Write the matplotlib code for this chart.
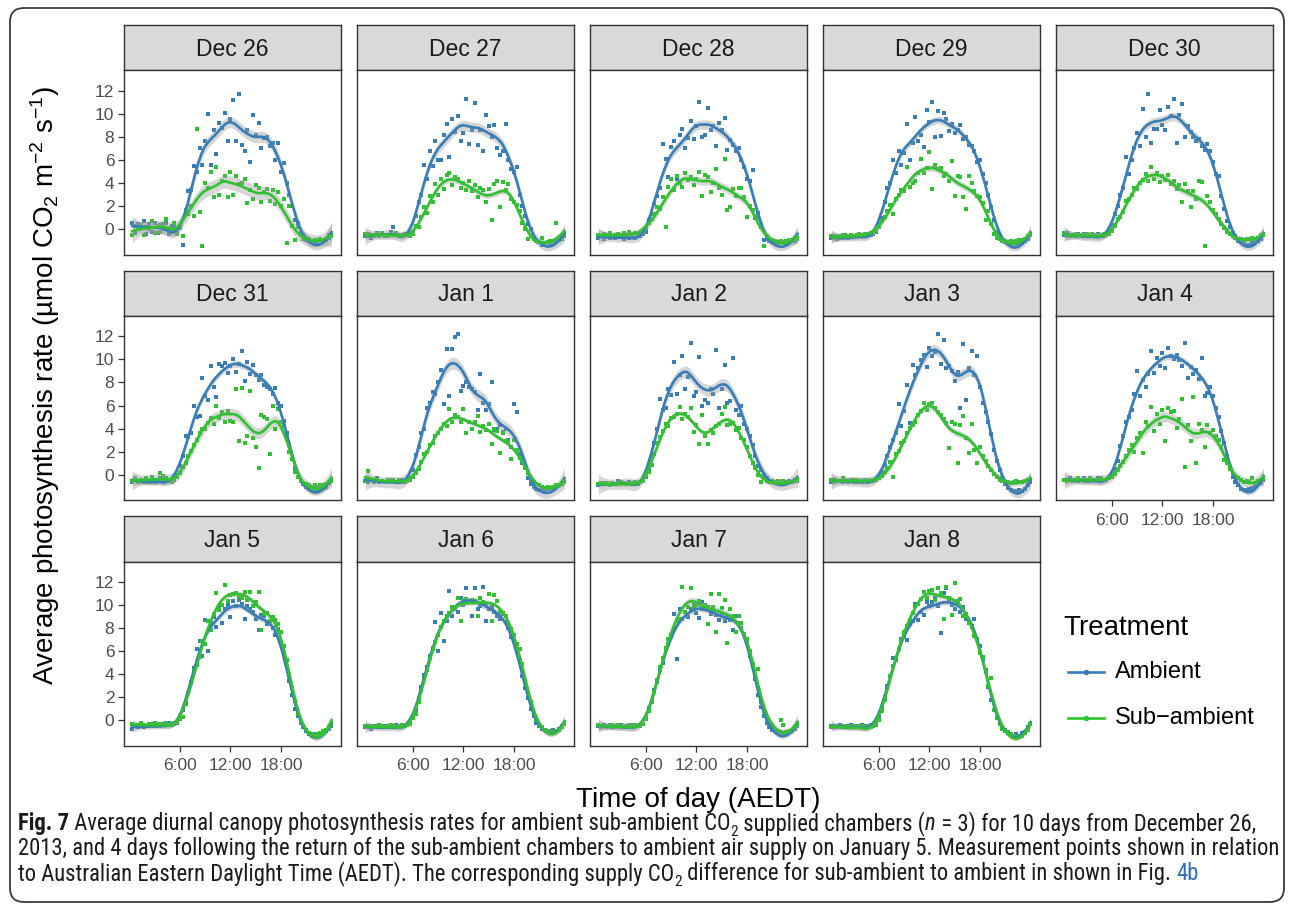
import numpy as np
import matplotlib
matplotlib.use("Agg")
import matplotlib.pyplot as plt
from matplotlib import font_manager
from matplotlib.font_manager import FontProperties
from matplotlib.lines import Line2D
from matplotlib.patches import FancyBboxPatch
from matplotlib.transforms import IdentityTransform

# readings every 20 min (t = 0:20 ... 24:00), one row = 4 hours
dec26_amb = [
    0.6, -0.3, 0.5, 0.2, 0.7, -0.4, 0.5, -0.2, 0.6, -0.3, 0.4, 0.0,
    0.6, -0.4, 0.3, 0.2, -0.3, 0.1, -1.3, 1.3, 3.3, 3.4, 5.5, 5.0,
    7.0, 5.6, 7.6, 10.0, 5.6, 8.6, 6.5, 9.2, 8.8, 10.1, 7.6, 9.5,
    11.2, 7.6, 11.7, 7.3, 6.8, 8.6, 5.8, 9.9, 8.2, 9.2, 7.0, 7.9,
    8.0, 7.2, 7.5, 6.0, 7.5, 5.0, 5.75, 4.0, 3.0, 2.0, 0.86, 0.6,
    -0.3, -0.5, -0.9, -1.0, -1.1, -1.2, -1.1, -0.9, -1.0, -0.9, -0.7, -0.5]
dec26_sub = [
    -0.5, 0.3, 0.1, 0.4, -0.5, 0.2, 0.0, 0.7, -0.3, 0.3, -0.2, 0.5,
    0.9, 0.1, -0.2, 0.6, -0.4, 0.2, -0.6, 1.7, 1.3, 2.0, 1.2, 8.7,
    1.5, -1.4, 4.0, 3.6, 5.0, 2.8, 5.4, 3.0, 4.2, 4.6, 2.8, 5.0,
    3.0, 4.6, 3.9, 4.0, 4.4, 2.3, 3.4, 2.6, 3.8, 3.6, 2.4, 3.2,
    3.5, 2.5, 3.4, 2.2, 3.2, 2.0, 2.6, -1.2, 2.0, 0.3, -0.9, 0.2,
    -0.5, -0.8, -0.7, -0.8, -1.0, -0.9, -0.9, -0.8, -1.0, -0.8, -0.5, -0.6]
dec27_amb = [
    -0.6, -0.4, -0.7, -0.5, -0.3, -0.6, -0.4, -0.6, -0.5, -0.2, 0.2, -0.3,
    -0.5, -0.6, -0.4, -0.5, -0.6, -0.3, 1.2, 2.4, 3.0, 5.6, 4.4, 6.8,
    5.5, 7.6, 6.0, 6.0, 8.2, 9.1, 6.25, 9.5, 8.4, 9.8, 7.6, 8.3,
    11.3, 7.4, 8.6, 10.9, 7.3, 8.6, 6.8, 9.9, 8.9, 8.0, 9.0, 7.0,
    6.4, 6.8, 9.1, 6.0, 5.2, 5.0, 5.4, 3.0, 2.0, 1.2, 0.5, 0.0,
    -0.8, -1.0, -1.1, -1.3, -1.2, -1.1, -1.2, -1.0, -1.1, -0.9, -0.8, -0.6]
dec27_sub = [
    -0.4, -0.6, -0.5, -0.6, -0.4, -0.5, -0.3, -0.5, -0.6, -0.4, -0.5, -0.3,
    -0.6, -0.5, -0.4, -0.5, -0.6, -0.4, 0.3, 0.2, 1.1, 1.9, 1.4, 2.9,
    2.4, 3.9, 3.0, 4.4, 3.5, 4.7, 4.9, 3.8, 4.5, 4.4, 3.6, 4.0,
    3.4, 4.2, 3.3, 3.8, 2.8, 3.6, 3.4, 2.4, 3.5, 0.8, 3.9, 4.2,
    1.9, 4.1, 3.4, 3.9, 2.6, 2.4, 2.1, 1.6, 0.6, 0.0, -0.8, -0.6,
    -0.8, -1.0, -1.1, -0.7, -1.2, -1.1, -1.0, -1.1, 0.6, -0.9, -0.7, -0.4]
dec28_amb = [
    -0.7, -0.6, -0.8, -0.5, -0.7, -0.6, -0.7, -0.5, -0.6, -0.8, -0.6, -0.7,
    -0.5, -0.7, -0.6, -0.6, -0.4, -0.2, 0.8, 1.3, 2.2, 2.9, 3.6, 7.4,
    6.1, 4.5, 7.1, 7.6, 4.4, 8.2, 8.7, 7.0, 7.9, 9.4, 7.8, 8.9,
    11.0, 8.0, 8.2, 10.5, 8.6, 8.9, 7.25, 9.2, 8.6, 9.6, 6.9, 7.7,
    7.3, 6.8, 7.0, 6.0, 5.4, 4.4, 4.2, 5.1, 1.0, 1.4, 0.2, -0.9,
    -0.8, -1.0, -1.1, -1.1, -1.2, -1.0, -1.1, -1.2, -1.0, -0.9, -1.0, -0.7]
dec28_sub = [
    -0.5, -0.6, -0.4, -0.5, -0.3, -0.6, -0.5, -0.4, -0.5, -0.3, -0.5, -0.2,
    -0.4, -0.3, -0.5, -0.3, -0.1, 0.1, 0.6, 0.9, 1.3, 1.9, 1.8, 2.8,
    0.2, 3.7, 4.4, 3.4, 4.6, 4.0, 3.7, 4.9, 4.3, 4.5, 3.8, 4.4,
    4.95, 2.9, 4.7, 4.5, 3.2, 4.0, 5.2, 3.6, 3.0, 6.1, 1.65, 1.9,
    3.5, 2.9, 3.6, 3.6, 2.8, 1.07, 2.0, 1.7, 1.2, 1.0, 0.4, -1.4,
    -0.6, -0.8, -0.9, -1.0, -1.1, -1.0, -1.1, -1.0, -0.9, -0.9, -0.8, -0.8]
dec29_amb = [
    -0.7, -0.6, -0.8, -0.6, -0.7, -0.5, -0.7, -0.6, -0.6, -0.5, -0.6, -0.5,
    -0.5, -0.4, -0.5, -0.4, -0.2, 0.5, 1.0, 2.4, 3.6, 4.0, 6.0, 4.9,
    6.8, 5.6, 6.6, 9.1, 6.0, 7.5, 9.7, 7.6, 8.2, 7.1, 10.3, 9.3,
    11.0, 8.0, 10.2, 8.1, 10.1, 9.5, 8.5, 9.1, 8.3, 8.6, 9.0, 7.8,
    8.0, 7.3, 7.2, 6.8, 5.8, 6.0, 4.8, 4.0, 3.0, 1.9, 0.8, -0.2,
    -0.6, -1.0, -1.1, -1.2, -1.3, -1.2, -1.3, -1.2, -1.1, -1.0, -0.8, -0.5]
dec29_sub = [
    -0.6, -0.7, -0.6, -0.7, -0.5, -0.6, -0.6, -0.5, -0.6, -0.5, -0.4, -0.5,
    -0.4, -0.5, -0.3, -0.3, -0.1, 0.2, 0.7, 1.1, 1.6, 2.1, 1.35, 2.6,
    3.0, 3.4, 3.3, 5.4, 3.65, 4.0, 4.2, 4.9, 6.1, 4.9, 5.3, 6.7,
    3.5, 5.6, 5.2, 5.3, 4.6, 4.8, 4.2, 5.9, 2.9, 4.6, 4.5, 2.8,
    1.8, 4.6, 4.0, 3.3, 2.9, 2.8, 2.3, 0.78, 1.6, 0.5, -0.4, -0.7,
    -0.8, -1.0, -1.0, -1.1, -1.0, -1.1, -1.0, -0.9, -0.9, -0.8, -0.6, -0.5]
dec30_amb = [
    -0.5, -0.3, -0.6, -0.5, -0.6, -0.4, -0.5, -0.4, -0.6, -0.6, -0.5, -0.5,
    -0.4, -0.5, -0.6, -0.5, -0.3, 0.4, 1.3, 2.0, 3.0, 3.6, 6.25, 4.8,
    6.0, 7.0, 8.3, 7.2, 10.4, 8.0, 11.7, 7.5, 8.7, 8.7, 10.3, 9.0,
    8.55, 10.6, 9.8, 11.3, 7.5, 9.9, 10.85, 7.97, 8.9, 8.4, 8.0, 7.6,
    7.8, 7.2, 6.9, 7.4, 6.8, 5.8, 4.8, 4.6, 2.9, 1.8, 0.7, 0.2,
    -0.3, -0.6, -1.0, -1.1, -1.2, -1.3, -1.3, -1.2, -1.1, -1.0, -0.8, -0.5]
dec30_sub = [
    -0.3, -0.6, -0.5, -0.6, -0.4, -0.5, -0.5, -0.6, -0.4, -0.5, -0.4, -0.6,
    -0.5, -0.6, -0.4, -0.5, -0.4, -0.1, 0.3, 0.9, 1.1, 1.5, 2.5, 2.6,
    3.0, 3.6, 3.5, 4.0, 4.3, 4.8, 4.2, 5.4, 4.4, 4.9, 4.1, 4.6,
    4.3, 4.7, 3.9, 4.2, 3.5, 3.8, 2.36, 3.9, 3.3, 1.93, 3.3, 2.6,
    4.2, 4.1, -1.4, 2.9, 2.4, 1.65, 1.3, 0.9, 0.5, 0.1, -0.2, -0.4,
    -0.6, -0.7, -0.8, -0.8, -0.9, -0.8, -0.8, -0.7, -0.8, -0.7, -0.5, -0.5]
dec31_amb = [
    -0.6, -0.4, -0.5, -0.5, -0.6, -0.4, -0.6, -0.5, -0.4, -0.5, -0.3, -0.6,
    -0.4, -0.5, -0.6, -0.3, 0.0, 0.8, 1.6, 3.4, 3.3, 3.6, 6.0, 5.0,
    5.1, 8.4, 6.8, 6.5, 9.4, 7.6, 6.7, 9.6, 9.4, 9.7, 8.8, 9.4,
    10.0, 8.9, 9.6, 10.7, 8.1, 9.8, 8.7, 9.5, 8.6, 8.2, 8.6, 7.8,
    7.6, 7.4, 7.0, 7.5, 6.2, 6.0, 4.7, 3.6, 2.6, 1.4, 0.6, -0.2,
    -0.5, -0.8, -1.0, -1.2, -1.3, -1.1, -1.2, -1.3, -1.1, -1.0, -0.7, -0.5]
dec31_sub = [
    -0.5, -0.3, -0.6, -0.4, -0.6, -0.3, -0.5, -0.2, -0.6, -0.5, 0.2, -0.1,
    -0.3, -0.5, -0.6, -0.4, -0.2, 0.2, 0.7, 1.0, 1.6, 2.1, 2.6, 3.0,
    3.6, 4.0, 4.0, 4.5, 4.9, 4.4, 6.0, 4.9, 5.4, 4.6, 5.5, 4.7,
    4.6, 7.45, 2.9, 7.5, 2.8, 3.4, 7.25, 3.2, 2.4, 0.63, 5.2, 5.0,
    4.8, 1.8, 6.0, 4.0, 5.7, 4.6, 4.2, 3.1, 2.0, 1.4, 0.3, -0.2,
    -0.5, -0.7, -0.8, -0.9, -1.0, -0.9, -1.0, -0.9, -0.9, -0.8, -0.6, -0.5]
jan1_amb = [
    -0.5, -0.6, -0.4, -0.5, -0.3, -0.6, -0.5, -0.6, -0.5, -0.4, -0.5, -0.6,
    -0.5, -0.4, -0.6, -0.5, -0.3, 0.4, 1.7, 2.4, 3.6, 4.0, 5.8, 6.2,
    7.2, 7.0, 8.0, 9.1, 6.1, 10.9, 6.8, 10.85, 11.9, 12.15, 7.25, 7.7,
    8.0, 7.6, 7.4, 7.2, 5.6, 8.7, 6.2, 5.6, 6.1, 8.0, 3.9, 4.0,
    4.3, 3.7, 4.0, 3.0, 2.4, 6.1, 5.4, 1.8, 1.0, 0.8, -0.3, -0.8,
    -1.0, -1.2, -1.3, -1.2, -1.3, -1.2, -1.1, -1.2, -1.0, -0.9, -0.8, -0.6]
jan1_sub = [
    -0.5, 0.35, -0.4, -0.6, -0.4, -0.5, -0.5, -0.6, -0.4, -0.5, -0.4, -0.6,
    -0.4, -0.6, -0.5, -0.5, -0.4, -0.2, 0.2, 0.5, 1.1, 1.8, 2.0, 2.6,
    2.8, 3.4, 3.6, 4.0, 4.4, 4.2, 5.7, 4.6, 5.2, 5.0, 4.6, 5.7,
    3.65, 4.6, 4.0, 4.6, 5.1, 3.7, 4.2, 3.9, 4.4, 2.65, 4.0, 3.8,
    1.93, 3.6, 2.9, 2.9, 1.35, 3.0, 2.2, 1.5, 1.3, 0.6, 0.2, -0.4,
    -0.6, -0.8, -0.9, -1.0, -1.1, -1.0, -1.1, -1.0, -0.9, -0.9, -0.7, -0.6]
jan2_amb = [
    -0.9, -0.8, -0.7, -0.8, -0.9, -0.7, -0.8, -0.5, -0.7, -0.7, -0.8, -0.6,
    -0.7, -0.6, -0.7, -0.6, -0.5, -0.2, 0.6, 1.6, 2.8, 4.0, 6.6, 5.6,
    5.8, 7.4, 6.9, 9.8, 7.0, 8.6, 10.3, 7.4, 8.5, 11.4, 6.8, 7.2,
    10.2, 6.0, 6.5, 6.2, 7.4, 7.0, 10.8, 5.8, 7.4, 9.5, 6.2, 6.4,
    10.1, 5.6, 5.2, 6.0, 4.4, 4.0, 3.4, 2.6, 1.6, 0.8, 0.4, 0.0,
    -0.3, -0.5, -0.6, -0.6, -0.7, -0.6, -0.7, -0.6, -0.5, -0.6, -0.4, -0.5]
jan2_sub = [
    -0.8, -0.7, -0.8, -0.7, -0.9, -0.7, -0.8, -0.7, -0.6, -0.7, -0.8, -0.7,
    -0.7, -0.6, -0.8, -0.6, -0.5, -0.1, 0.3, 0.9, 1.8, 2.8, 3.3, 3.8,
    4.4, 4.2, 4.9, 5.0, 5.3, 5.9, 4.8, 5.3, 5.0, 5.75, 3.7, 4.3,
    2.7, 5.2, 3.4, 2.7, 3.9, 3.6, 4.2, 4.4, 5.3, 5.9, 4.3, 4.4,
    4.5, 3.9, 4.1, 3.2, 3.0, 2.4, 1.6, 1.0, 0.6, 0.0, -0.6, -0.3,
    -0.5, -0.6, -0.5, -0.6, -0.5, -0.6, -0.5, -0.7, -0.6, -0.6, -0.5, -0.4]
jan3_amb = [
    -0.6, -0.4, -0.5, -0.5, -0.6, -0.4, -0.5, -0.4, -0.6, -0.6, -0.5, -0.5,
    -0.4, -0.6, -0.5, -0.5, -0.4, -0.2, 0.3, 0.9, 1.6, 2.4, 3.0, 3.6,
    6.1, 4.2, 5.5, 7.8, 4.5, 9.5, 8.6, 9.2, 9.9, 10.4, 9.3, 11.0,
    10.3, 10.6, 12.2, 9.6, 11.7, 9.2, 9.4, 9.0, 8.1, 8.9, 5.8, 11.3,
    6.5, 9.2, 10.7, 8.6, 10.3, 7.6, 6.2, 5.4, 4.6, 3.5, 2.2, 1.2,
    0.4, -0.3, -0.8, -1.1, -1.3, -1.4, -1.4, -1.3, -1.4, -1.2, -0.9, -0.6]
jan3_sub = [
    -0.4, -0.6, -0.5, -0.5, -0.3, -0.5, -0.6, -0.5, -0.4, -0.4, -0.5, -0.6,
    -0.5, -0.4, -0.5, -0.5, -0.4, -0.3, -0.1, 0.3, 0.6, 1.1, -0.2, 1.8,
    2.1, 2.8, 2.9, 3.6, 4.1, 4.3, 4.6, 5.2, 5.5, 6.25, 5.6, 6.1,
    6.25, 5.8, 5.4, 5.2, 4.8, 4.5, 2.36, 4.6, 4.4, 1.07, 4.3, 5.1,
    3.2, 1.93, 4.4, 2.2, 1.07, 2.4, 1.6, 1.2, 0.8, 0.4, 0.1, -0.2,
    -0.4, -0.5, -0.6, -0.6, -0.7, -0.6, -0.5, -0.6, -0.6, -0.5, -0.4, -0.4]
jan4_amb = [
    -0.4, -0.5, -0.3, -0.5, -0.4, -0.5, -0.4, -0.3, -0.5, -0.5, -0.4, -0.4,
    -0.3, -0.5, -0.4, -0.4, -0.3, -0.1, 0.5, 1.2, 2.5, 3.4, 4.6, 5.0,
    5.6, 7.0, 9.0, 6.8, 8.2, 7.6, 8.7, 10.7, 8.8, 10.1, 9.4, 10.5,
    9.2, 11.0, 10.3, 10.0, 10.4, 9.9, 9.4, 11.4, 8.4, 9.3, 8.7, 9.1,
    8.3, 10.1, 6.8, 7.1, 7.6, 6.8, 5.8, 5.0, 3.8, 2.8, 1.6, 0.6,
    -0.2, -0.6, -0.9, -1.2, -1.3, -1.3, -1.2, -1.1, -1.0, -0.8, -0.7, -0.4]
jan4_sub = [
    -0.4, -0.5, -0.4, -0.5, -0.4, -0.3, -0.4, -0.5, -0.4, -0.3, -0.4, -0.5,
    -0.4, -0.3, -0.4, -0.4, -0.3, -0.2, 0.1, 0.4, 0.8, 1.1, 1.6, 2.2,
    2.6, 2.0, 3.2, 3.6, 1.9, 4.6, 4.2, 5.9, 3.8, 5.3, 4.4, 5.6,
    2.9, 5.8, 5.4, 5.5, 4.1, 4.8, 6.6, 0.72, 4.3, 2.9, 6.7, 1.0,
    4.4, 3.9, 2.45, 4.3, 3.6, 3.9, 3.4, 3.0, 2.4, 1.3, 1.0, 0.5,
    0.1, -0.1, -0.3, -0.4, -0.6, -0.5, -0.6, -0.3, -0.7, -0.5, -0.4, -0.3]
jan5_amb = [
    -0.7, -0.5, -0.6, -0.4, -0.6, -0.5, -0.5, -0.3, -0.5, -0.4, -0.5, -0.3,
    -0.4, -0.2, -0.4, -0.3, -0.2, 0.4, 0.9, 1.5, 2.4, 3.2, 4.5, 6.2,
    6.9, 5.6, 8.7, 6.0, 8.4, 8.9, 8.1, 9.8, 8.4, 9.6, 10.0, 8.9,
    10.3, 9.9, 10.4, 10.1, 8.8, 9.9, 9.6, 9.4, 8.8, 7.8, 9.1, 9.0,
    8.3, 8.6, 8.0, 7.4, 7.9, 6.6, 5.8, 4.6, 3.4, 2.2, 1.0, 0.4,
    -0.2, -0.6, -0.9, -1.2, -1.3, -1.2, -1.3, -1.1, -1.0, -0.9, -0.7, -0.5]
jan5_sub = [
    -0.3, -0.5, -0.4, -0.2, -0.4, -0.5, -0.3, -0.4, -0.2, -0.5, -0.3, -0.4,
    -0.2, -0.4, -0.3, -0.2, -0.1, 0.1, 0.3, 1.4, 2.4, 3.3, 4.4, 4.8,
    5.5, 6.9, 6.6, 8.6, 7.8, 9.2, 11.0, 9.5, 10.0, 11.7, 10.3, 10.8,
    10.9, 11.0, 10.7, 10.6, 11.1, 10.4, 11.1, 9.9, 10.2, 11.1, 7.8, 9.2,
    9.3, 8.6, 8.9, 8.7, 8.3, 7.6, 6.4, 5.2, 3.9, 2.8, 1.7, 0.6,
    -0.1, -0.5, -0.8, -1.1, -1.2, -1.3, -1.2, -1.1, -0.9, -0.8, -0.6, -0.3]
jan6_amb = [
    -0.6, -0.5, -0.7, -0.5, -0.6, -0.5, -0.6, -0.5, -0.6, -0.5, -0.6, -0.4,
    -0.5, -0.4, -0.5, -0.4, -0.2, 0.4, 0.9, 1.9, 2.9, 3.9, 4.6, 5.6,
    6.3, 8.5, 6.0, 9.3, 6.9, 8.6, 11.2, 9.0, 9.6, 9.4, 10.6, 10.0,
    11.4, 10.3, 9.0, 11.4, 9.6, 9.9, 11.5, 8.6, 9.6, 9.8, 9.4, 9.0,
    8.8, 9.2, 8.5, 8.0, 7.2, 6.9, 6.0, 5.2, 3.8, 2.8, 1.9, 1.0,
    0.4, -0.2, -0.5, -0.7, -0.8, -0.9, -0.9, -0.8, -0.9, -0.7, -0.5, -0.3]
jan6_sub = [
    -0.5, -0.6, -0.5, -0.6, -0.5, -0.4, -0.5, -0.6, -0.5, -0.4, -0.5, -0.6,
    -0.5, -0.4, -0.5, -0.4, -0.3, 0.2, 0.6, 1.6, 2.6, 3.6, 4.4, 5.4,
    6.2, 6.8, 7.4, 8.1, 8.6, 9.0, 9.3, 9.8, 9.7, 10.6, 8.6, 10.4,
    10.5, 10.2, 10.4, 10.3, 9.0, 10.6, 10.2, 10.1, 10.9, 8.6, 10.8, 10.3,
    9.4, 9.3, 9.0, 8.3, 7.9, 7.4, 6.6, 6.2, 4.9, 3.4, 2.4, 1.6,
    0.6, 0.0, -0.4, -0.6, -0.8, -0.9, -1.0, -1.0, -0.9, -0.8, -0.6, -0.3]
jan7_amb = [
    -0.5, -0.6, -0.4, -0.5, -0.4, -0.6, -0.5, -0.5, -0.4, -0.6, -0.5, -0.5,
    -0.4, -0.5, -0.5, -0.5, -0.3, 0.2, 1.1, 1.7, 2.6, 3.3, 4.4, 5.0,
    6.2, 6.6, 7.4, 9.2, 5.3, 9.6, 8.8, 9.4, 8.9, 9.6, 10.0, 9.3,
    8.85, 10.2, 9.6, 9.8, 9.2, 9.5, 9.1, 8.7, 9.2, 8.6, 9.0, 8.7,
    7.8, 9.0, 8.4, 8.0, 7.5, 6.9, 5.6, 4.7, 3.6, 2.2, 1.2, 0.4,
    -0.2, -0.6, -0.8, -0.9, -1.0, -1.0, -1.1, -1.0, -0.9, -0.9, -0.7, -0.5]
jan7_sub = [
    -0.4, -0.5, -0.5, -0.6, -0.5, -0.4, -0.5, -0.4, -0.5, -0.5, -0.6, -0.4,
    -0.5, -0.4, -0.5, -0.4, -0.3, 0.1, 0.8, 1.6, 2.5, 3.5, 4.6, 5.4,
    6.3, 7.0, 7.2, 8.0, 8.6, 8.8, 11.5, 9.4, 9.8, 11.4, 9.8, 10.0,
    10.3, 9.6, 10.0, 8.3, 10.9, 9.8, 7.6, 10.9, 9.7, 10.4, 6.7, 9.6,
    9.0, 7.6, 9.0, 8.4, 7.5, 7.0, 6.0, 4.9, 3.8, 4.45, 1.6, 0.8,
    0.0, -0.3, -0.6, -0.8, -0.9, 0.0, -0.4, -1.0, -0.9, -0.8, -0.6, -0.4]
jan8_amb = [
    -0.5, -0.6, -0.5, -0.4, -0.5, -0.6, -0.5, -0.4, -0.5, -0.6, -0.5, -0.4,
    -0.5, -0.5, -0.4, -0.4, -0.2, 0.3, 1.1, 2.0, 3.0, 3.8, 5.4, 5.2,
    6.2, 7.0, 7.3, 6.95, 8.3, 8.6, 10.1, 8.7, 9.4, 9.1, 10.2, 9.9,
    10.2, 10.6, 9.9, 7.55, 11.0, 11.4, 10.4, 10.0, 9.6, 10.3, 9.4, 9.8,
    8.8, 8.4, 8.2, 8.8, 7.0, 6.4, 5.3, 4.4, 2.9, 1.8, 0.9, 0.2,
    -0.3, -0.6, -0.8, -1.0, -1.2, -1.3, -1.2, -1.3, -1.1, -1.0, -0.6, -0.3]
jan8_sub = [
    -0.6, -0.5, -0.6, -0.5, -0.6, -0.5, -0.6, -0.5, -0.6, -0.5, -0.6, -0.5,
    -0.6, -0.5, -0.6, -0.5, -0.4, 0.0, 0.8, 1.8, 2.8, 3.8, 4.7, 5.4,
    6.2, 6.9, 7.6, 8.2, 8.7, 9.3, 9.9, 10.1, 10.5, 11.1, 10.6, 11.2,
    11.3, 10.4, 11.4, 11.0, 8.8, 11.5, 10.6, 9.1, 11.9, 10.2, 10.5, 9.0,
    9.2, 8.4, 8.1, 7.3, 7.0, 5.8, 5.5, 4.2, 3.0, 3.7, 0.9, 0.2,
    -0.3, -0.7, -0.9, -1.1, -1.2, -1.3, -1.4, -1.4, -1.3, -1.1, -0.8, -0.3]

days = ["Dec 26", "Dec 27", "Dec 28", "Dec 29", "Dec 30",
        "Dec 31", "Jan 1", "Jan 2", "Jan 3", "Jan 4",
        "Jan 5", "Jan 6", "Jan 7", "Jan 8"]
ambient = [dec26_amb, dec27_amb, dec28_amb, dec29_amb, dec30_amb,
           dec31_amb, jan1_amb, jan2_amb, jan3_amb, jan4_amb,
           jan5_amb, jan6_amb, jan7_amb, jan8_amb]
sub_ambient = [dec26_sub, dec27_sub, dec28_sub, dec29_sub, dec30_sub,
               dec31_sub, jan1_sub, jan2_sub, jan3_sub, jan4_sub,
               jan5_sub, jan6_sub, jan7_sub, jan8_sub]
hours = np.arange(1, 73) / 3.0

x_ticks = [6, 12, 18]
x_tick_labels = ["6:00", "12:00", "18:00"]
y_ticks = [0, 2, 4, 6, 8, 10, 12]
treatments = ["Ambient", "Sub\u2212ambient"]

AMB_COL = "#377EB8"
SUB_COL = "#2FC22F"

for name, vals in zip(days, ambient + sub_ambient):
    if len(vals) != 72:
        raise ValueError("bad length for %s: %d" % (name, len(vals)))


def loess(x, y, grid, span=0.3):
    """local quadratic fit with tricube weights (like geom_smooth loess)"""
    n = len(x)
    k = int(np.ceil(span * n))

    def row(x0):
        d = np.abs(x - x0)
        h = np.sort(d)[k - 1] * 1.0001
        w = np.clip(1 - (d / h) ** 3, 0, None) ** 3
        X = np.column_stack([np.ones(n), x - x0, (x - x0) ** 2])
        XtW = X.T * w
        return np.linalg.solve(XtW @ X, XtW)[0]

    L = np.array([row(x0) for x0 in x])
    resid = y - L @ y
    sigma = np.sqrt(np.sum(resid ** 2) / (n - np.trace(L)))
    G = np.array([row(x0) for x0 in grid])
    return G @ y, sigma * np.sqrt(np.sum(G ** 2, axis=1))


def condensed_font(bold=False, italic=False):
    """look for an installed narrow / condensed sans face"""
    prefs = ["Liberation Sans Narrow", "Roboto Condensed", "Open Sans Condensed",
             "Noto Sans", "DejaVu Sans", "Open Sans", "Roboto"]
    best = None
    for f in font_manager.fontManager.ttflist:
        narrow = ("Narrow" in f.name or "Condensed" in f.name
                  or "ondensed" in str(f.stretch) or "Condensed" in f.fname
                  or "Narrow" in f.fname)
        if not narrow:
            continue
        w = f.weight if isinstance(f.weight, int) else font_manager.weight_dict.get(f.weight, 400)
        if (w >= 600) != bold or (f.style != "normal") != italic:
            continue
        if "Extra" in f.fname or "Ultra" in f.fname or "Semi" in f.fname:
            continue
        rank = next((j for j, p in enumerate(prefs) if f.name.startswith(p)), len(prefs))
        if best is None or rank < best[0]:
            best = (rank, f.fname)
    return best[1] if best else None


plt.rcParams["font.family"] = ["Liberation Sans", "DejaVu Sans"]
plt.rcParams["mathtext.fontset"] = "custom"
plt.rcParams["mathtext.rm"] = "Liberation Sans"
plt.rcParams["mathtext.it"] = "Liberation Sans:italic"
plt.rcParams["mathtext.bf"] = "Liberation Sans:bold"

W, H = 1290, 913
fig = plt.figure(figsize=(W / 100, H / 100), dpi=100)
fig.patch.set_facecolor("white")

col_left = [124, 357, 590, 823, 1056]
row_top = [25, 270.5, 516]
PANEL_W, PANEL_H, STRIP_H = 217, 184, 45.5

grid = np.linspace(hours[0], hours[-1], 200)

for i, day in enumerate(days):
    r, c = divmod(i, 5)
    left, top = col_left[c], row_top[r]

    sax = fig.add_axes([left / W, 1 - (top + STRIP_H) / H, PANEL_W / W, STRIP_H / H])
    sax.set_facecolor("#D9D9D9")
    sax.set_xticks([])
    sax.set_yticks([])
    for sp in sax.spines.values():
        sp.set_color("#333333")
        sp.set_linewidth(1.0)
    sax.text(0.5, 0.32, day, ha="center", va="baseline", size=16.5,
             color="#1A1A1A", transform=sax.transAxes)

    ax = fig.add_axes([left / W, 1 - (top + STRIP_H + PANEL_H) / H, PANEL_W / W, PANEL_H / H])
    amb = np.array(ambient[i])
    sub = np.array(sub_ambient[i])
    ax.scatter(hours, amb, s=6, marker="s", color=AMB_COL, linewidths=0, zorder=2)
    ax.scatter(hours, sub, s=6, marker="s", color=SUB_COL, linewidths=0, zorder=2)
    for vals, col in ((amb, AMB_COL), (sub, SUB_COL)):
        fit, se = loess(hours, vals, grid)
        ax.fill_between(grid, fit - 1.3 * se, fit + 1.3 * se, color="#999999",
                        alpha=0.4, linewidth=0, zorder=3)
        ax.plot(grid, fit, color=col, lw=1.9, zorder=4)

    ax.set_xlim(-0.65, 25.13)
    ax.set_ylim(-2.16, 13.73)
    for sp in ax.spines.values():
        sp.set_color("#333333")
        sp.set_linewidth(1.0)
    ax.set_xticks(x_ticks)
    ax.set_xticklabels(x_tick_labels)
    ax.set_yticks(y_ticks)
    ax.tick_params(direction="out", length=4, width=0.9, color="#333333",
                   labelcolor="#4D4D4D", labelsize=12.5, pad=3)
    ax.tick_params(axis="x", pad=5)
    show_x = (r == 2) or (r == 1 and c == 4)
    if not show_x:
        ax.tick_params(axis="x", bottom=False, labelbottom=False)
    if c != 0:
        ax.tick_params(axis="y", left=False, labelleft=False)

# axis titles
fig.text(698 / W, 1 - 800 / H, "Time of day (AEDT)", ha="center", va="center",
         size=20, color="black")
fig.text(45 / W, 1 - 386 / H,
         r"Average photosynthesis rate (µmol CO$_\mathregular{2}$ m$^\mathregular{-2}$ s$^\mathregular{-1}$)",
         rotation=90, ha="center", va="center", size=20, color="black")

# legend
fig.text(1063 / W, 1 - 628 / H, "Treatment", ha="left", va="center", size=20)
for lab, col, yy in zip(treatments, (AMB_COL, SUB_COL), (672, 718)):
    fy = 1 - yy / H
    fig.add_artist(Line2D([1068 / W, 1104 / W], [fy, fy], color=col, lw=1.9,
                          transform=fig.transFigure))
    fig.add_artist(Line2D([1086 / W], [fy], color=col, marker="o", ms=3,
                          transform=fig.transFigure))
    fig.text(1115 / W, fy, lab, ha="left", va="center", size=17)

# outer frame
fig.add_artist(FancyBboxPatch((10, H - 902), 1274, 894,
                              boxstyle="round,pad=0,rounding_size=14",
                              transform=IdentityTransform(), fill=False,
                              ec="#3A3A3A", lw=1.3))

# caption
renderer = fig.canvas.get_renderer()
reg_file = condensed_font()
bold_file = condensed_font(bold=True) or reg_file
it_file = condensed_font(italic=True) or reg_file


def fprops(fname, size, **kw):
    if fname:
        return FontProperties(fname=fname, size=size)
    return FontProperties(family="Liberation Sans", size=size, **kw)


def text_w(s, fp):
    t = fig.text(0, 0, s, fontproperties=fp)
    w = t.get_window_extent(renderer=renderer).width
    t.remove()
    return w


def advance(s, fp):
    return text_w("|" + s + "|", fp) - text_w("||", fp)


line2 = ("2013, and 4 days following the return of the sub-ambient chambers to ambient "
         "air supply on January 5. Measurement points shown in relation")
cap_size = 10 * 1252 / advance(line2, fprops(reg_file, 10))
CAP_COL = "#1A1A1A"
normal = fprops(reg_file, cap_size)
bold = fprops(bold_file, cap_size, weight="bold")
ital = fprops(it_file, cap_size, style="italic")
sub2 = fprops(reg_file, cap_size * 0.68)

caption = [
    (830, [("Fig. 7", bold, CAP_COL),
           (" Average diurnal canopy photosynthesis rates for ambient sub-ambient CO", normal, CAP_COL),
           ("2", sub2, CAP_COL), (" supplied chambers (", normal, CAP_COL), ("n", ital, CAP_COL),
           (" = 3) for 10 days from December 26,", normal, CAP_COL)]),
    (855, [(line2, normal, CAP_COL)]),
    (880, [("to Australian Eastern Daylight Time (AEDT). The corresponding supply CO", normal, CAP_COL),
           ("2", sub2, CAP_COL),
           (" difference for sub-ambient to ambient in shown in Fig. ", normal, CAP_COL),
           ("4b", normal, "#2A6EBB")]),
]
for base, segs in caption:
    x = 18.0
    for s, fp, col in segs:
        dy = -0.25 * cap_size * 100 / 72 if fp is sub2 else 0
        fig.text(x / W, 1 - (base - dy) / H, s, ha="left", va="baseline",
                 fontproperties=fp, color=col)
        x += advance(s, fp)

fig.savefig("out.png", dpi=100, facecolor="white")
